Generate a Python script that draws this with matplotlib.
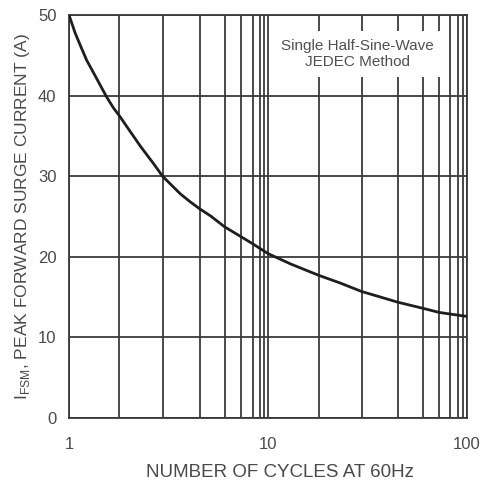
import numpy as np
import matplotlib
matplotlib.use('Agg')
import matplotlib.pyplot as plt
from matplotlib.ticker import FixedLocator, NullFormatter

plt.rcParams['font.family'] = ['Liberation Sans', 'DejaVu Sans']

# curve: number of cycles vs peak surge current (A)
cycles = [1, 1.12, 1.22, 1.35, 1.49, 1.62, 1.75, 1.88, 2, 2.18, 2.49, 2.8, 3, 3.48, 3.75,
          4, 4.44, 5, 6, 7, 10, 14.5, 20, 25, 30, 40, 50, 60, 70, 100]
current = [50, 47.8, 46.3, 44.4, 42.8, 41.3, 39.8, 38.5, 37.5, 36.1, 33.7, 31.5, 30.0, 27.8, 26.8,
           25.95, 25.05, 23.7, 22.5, 21.6, 20.4, 19.1, 17.7, 16.75, 15.7, 14.35, 13.6, 13.1, 12.9, 12.6]

y_ticks = [0, 10, 20, 30, 40, 50]
x_major = [1, 10, 100]
x_labels = ['1', '10', '100']
x_minor = [2, 3, 4, 5, 6, 7, 8, 9, 20, 30, 40, 50, 60, 70, 80, 90]

# the printed graph paper is not a true log grid, so map each grid value
# to where it sits on the sheet (fraction of decades)
grid_vals = [1, 2, 3, 4, 5, 6, 7, 8, 9, 10, 20, 30, 40, 50, 60, 70, 80, 90, 100]
grid_pos = [0, .253, .47, .657, .783, .864, .924, .96, .98, 1,
            1.255, 1.47, 1.655, 1.78, 1.86, 1.915, 1.955, 1.98, 2]


def fwd(x):
    return np.interp(x, grid_vals, grid_pos)


def inv(p):
    return np.interp(p, grid_pos, grid_vals)


fig = plt.figure(figsize=(4.89, 4.80), dpi=100)
ax = fig.add_axes([69 / 489, 62 / 480, 398 / 489, 403 / 480])
ax.set_xscale('function', functions=(fwd, inv))
ax.set_xlim(1, 100)
ax.set_ylim(0, 50)

line_col = '#3a3a3a'
ax.xaxis.set_major_locator(FixedLocator(x_major))
ax.xaxis.set_minor_locator(FixedLocator(x_minor))
ax.xaxis.set_minor_formatter(NullFormatter())
ax.set_xticklabels(x_labels)
ax.set_yticks(y_ticks)
ax.grid(True, which='both', color=line_col, linewidth=1.3)
ax.tick_params(which='both', length=0, labelsize=12, labelcolor='#4a4a4a')
ax.tick_params(axis='x', pad=14)
ax.tick_params(axis='y', pad=9)
for s in ax.spines.values():
    s.set_color(line_col)
    s.set_linewidth(1.3)

ax.plot(cycles, current, color='#1e1e1e', linewidth=2, zorder=3)

ax.text(0.724, 0.903, 'Single Half-Sine-Wave\nJEDEC Method', transform=ax.transAxes,
        ha='center', va='center', fontsize=11, color='#505050', linespacing=1.2,
        bbox=dict(facecolor='white', edgecolor='none', boxstyle='square,pad=0.5'), zorder=4)

ax.set_xlabel('NUMBER OF CYCLES AT 60Hz', fontsize=13.5, color='#4a4a4a')
ax.xaxis.set_label_coords(0.53, -0.115)
ax.set_ylabel('I$_{\\mathregular{FSM}}$, PEAK FORWARD SURGE CURRENT (A)', fontsize=12.5,
              color='#4a4a4a', labelpad=4)

fig.savefig('out.png', dpi=100, facecolor='white')
